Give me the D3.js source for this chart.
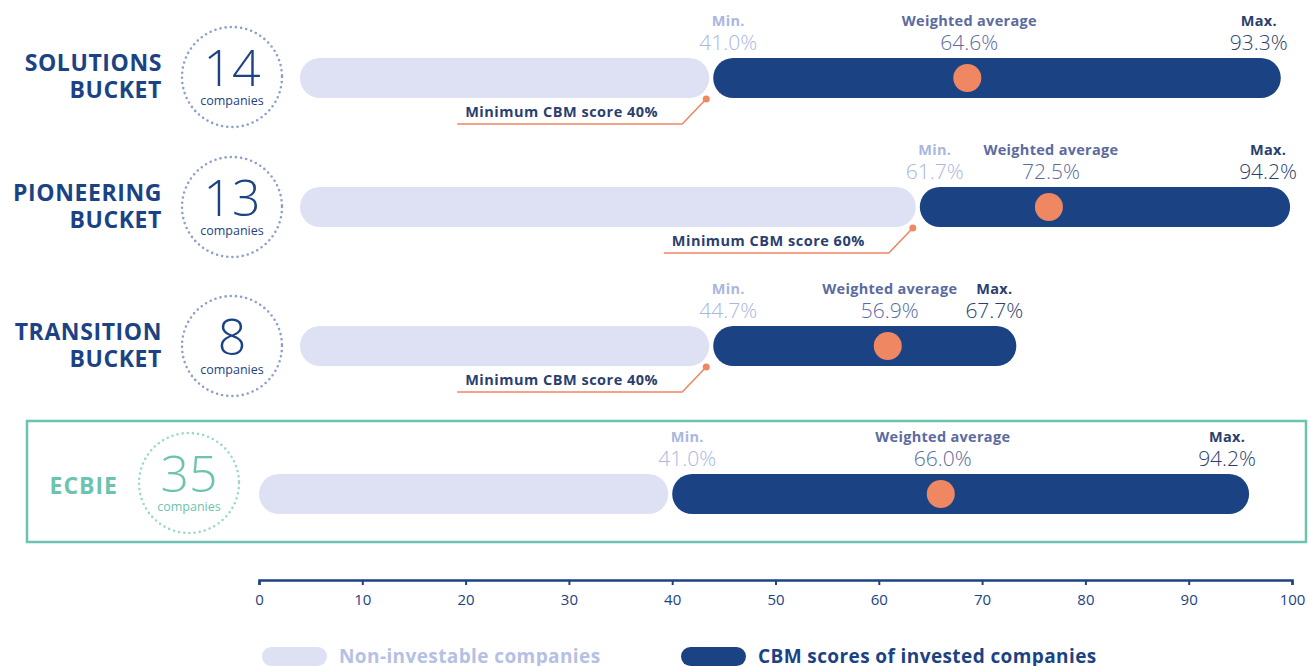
<!DOCTYPE html>
<html>
<head>
<meta charset="utf-8">
<script src="https://cdn.jsdelivr.net/npm/d3@7"></script>
<style>
  html, body { margin: 0; padding: 0; background: #fff; }
  svg { display: block; font-family: "Open Sans", "DejaVu Sans", sans-serif; }
</style>
</head>
<body>
<div id="chart"></div>
<script>
// data
var buckets = ["SOLUTIONS|BUCKET", "PIONEERING|BUCKET", "TRANSITION|BUCKET", "ECBIE"];
var companies = [14, 13, 8, 35];
var thresholds = [40, 60, 40, 40];
var minScores = [41.0, 61.7, 44.7, 41.0];
var avgScores = [64.6, 72.5, 56.9, 66.0];
var maxScores = [93.3, 94.2, 67.7, 94.2];
var axisTicks = [0, 10, 20, 30, 40, 50, 60, 70, 80, 90, 100];
var legendLabels = ["Non-investable companies", "CBM scores of invested companies"];
var totalBucket = "ECBIE";

var navy = "#1b4384", light = "#dde1f3", orange = "#ef8762", teal = "#6cc3b0";

var W = 1309, H = 666;
var svg = d3.select("#chart").append("svg").attr("width", W).attr("height", H);

// axis scale (ECBIE row + axis), buckets sit 41px further right
var x = d3.scaleLinear().domain([0, 100]).range([259, 1292]);
var xb = d3.scaleLinear().domain([0, 100]).range([300, 1333]);

var rowY = [78, 207, 346, 494];     // bar centres
var circleY = [77, 207, 346, 483];
var circleX = [232, 232, 232, 189];
var barH = 40, gap = 4, endPad = 17;

var rows = buckets.map(function(b, i) {
  return {name: b, n: companies[i], thr: thresholds[i], min: minScores[i],
          avg: avgScores[i], max: maxScores[i], i: i, total: b === totalBucket};
});

// ECBIE frame
svg.append("rect")
  .attr("x", 27).attr("y", 421).attr("width", 1279).attr("height", 121)
  .attr("fill", "none").attr("stroke", teal).attr("stroke-width", 2.5);

var g = svg.selectAll("g.row").data(rows).enter().append("g").attr("class", "row");

g.each(function(d) {
  var sel = d3.select(this);
  var s = d.total ? x : xb;
  var cy = rowY[d.i];
  var col = d.total ? teal : navy;

  // left label
  var parts = d.name.split("|");
  if (parts.length > 1) {
    sel.append("text").attr("x", 162).attr("y", circleY[d.i] - 6)
      .attr("text-anchor", "end").attr("font-size", 23).attr("font-weight", 700)
      .attr("letter-spacing", 0.6).attr("fill", col).text(parts[0]);
    sel.append("text").attr("x", 162).attr("y", circleY[d.i] + 21)
      .attr("text-anchor", "end").attr("font-size", 23).attr("font-weight", 700)
      .attr("letter-spacing", 0.6).attr("fill", col).text(parts[1]);
  } else {
    sel.append("text").attr("x", 118).attr("y", circleY[d.i] + 11)
      .attr("text-anchor", "end").attr("font-size", 23).attr("font-weight", 700)
      .attr("letter-spacing", 1).attr("fill", col).text(parts[0]);
  }

  // dotted circle with count
  sel.append("circle").attr("cx", circleX[d.i]).attr("cy", circleY[d.i]).attr("r", 50)
    .attr("fill", "none").attr("stroke", d.total ? "#9bd8ca" : "#8d9fc8")
    .attr("stroke-width", 2.6).attr("stroke-linecap", "round")
    .attr("stroke-dasharray", "0 5.2");
  sel.append("text").attr("x", circleX[d.i]).attr("y", circleY[d.i] + 9)
    .attr("text-anchor", "middle").attr("font-size", 50).attr("font-weight", 300)
    .attr("fill", col).text(d.n);
  sel.append("text").attr("x", circleX[d.i]).attr("y", circleY[d.i] + 28)
    .attr("text-anchor", "middle").attr("font-size", 12.5)
    .attr("fill", col).text("companies");

  var darkStart = s(d.thr);
  var barEnd = s(d.max) + endPad;

  // non-investable
  sel.append("rect").attr("x", s(0)).attr("y", cy - barH / 2)
    .attr("width", darkStart - gap - s(0)).attr("height", barH)
    .attr("rx", barH / 2).attr("fill", light);
  // invested
  sel.append("rect").attr("x", darkStart).attr("y", cy - barH / 2)
    .attr("width", barEnd - darkStart).attr("height", barH)
    .attr("rx", barH / 2).attr("fill", navy);
  // weighted average dot
  sel.append("circle").attr("cx", s(d.avg)).attr("cy", cy).attr("r", 14)
    .attr("fill", orange);

  // labels above bar
  var lab = [
    {x: darkStart + 15, t: "Min.", v: d.min, c: "#aab7df"},
    {x: s(d.avg) + 2, t: "Weighted average", v: d.avg, c: "#5b6b9f"},
    {x: barEnd - 22, t: "Max.", v: d.max, c: "#2b3f6f"}
  ];
  lab.forEach(function(l) {
    sel.append("text").attr("x", l.x).attr("y", cy - 52)
      .attr("text-anchor", "middle").attr("font-size", 14.5).attr("font-weight", 700)
      .attr("letter-spacing", 0.3).attr("fill", l.c).text(l.t);
    sel.append("text").attr("x", l.x).attr("y", cy - 28)
      .attr("text-anchor", "middle").attr("font-size", 21).attr("font-weight", 300)
      .attr("fill", l.c).text(d3.format(".1f")(l.v) + "%");
  });

  // threshold note
  if (!d.total) {
    var px = darkStart - gap - 3, py = cy + barH / 2 + 1;
    var lx = px - 24, ly = py + 25;
    sel.append("path")
      .attr("d", "M" + px + "," + py + "L" + lx + "," + ly + "H" + (lx - 225))
      .attr("fill", "none").attr("stroke", orange).attr("stroke-width", 1.6);
    sel.append("circle").attr("cx", px).attr("cy", py).attr("r", 3.5).attr("fill", orange);
    sel.append("text").attr("x", lx - 217).attr("y", ly - 7)
      .attr("font-size", 14.5).attr("font-weight", 700).attr("letter-spacing", 0.5)
      .attr("fill", "#2b3f6f").text("Minimum CBM score " + d.thr + "%");
  }
});

// axis
var axis = svg.append("g").attr("class", "x axis")
  .attr("transform", "translate(0,580)")
  .call(d3.axisBottom(x).tickValues(axisTicks).tickSize(5).tickSizeOuter(5).tickPadding(9));
axis.select(".domain").attr("stroke", navy).attr("stroke-width", 2.5);
axis.selectAll(".tick line").attr("stroke", navy).attr("stroke-width", 2);
axis.selectAll(".tick text").attr("fill", navy).attr("font-size", 15)
  .attr("font-family", "'Open Sans', sans-serif");

// legend
var lg = [{x: 262, c: light, t: legendLabels[0], tc: "#b4c0e4"},
          {x: 681, c: navy, t: legendLabels[1], tc: navy}];
lg.forEach(function(l) {
  svg.append("rect").attr("x", l.x).attr("y", 647).attr("width", 65).attr("height", 19)
    .attr("rx", 9.5).attr("fill", l.c);
  svg.append("text").attr("x", l.x + 77).attr("y", 663)
    .attr("font-size", 19).attr("font-weight", 700).attr("letter-spacing", 0.4)
    .attr("fill", l.tc).text(l.t);
});
</script>
</body>
</html>
